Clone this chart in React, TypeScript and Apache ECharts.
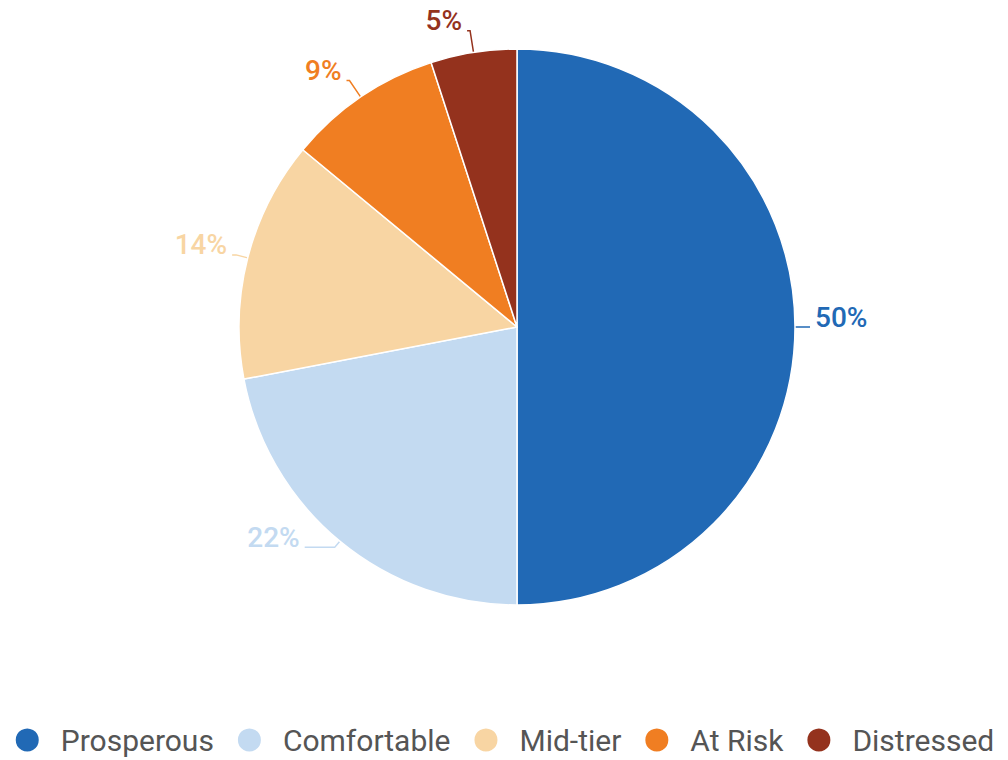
import React, { useEffect, useRef } from "react";
import * as echarts from "echarts";

const categories = ["Prosperous", "Comfortable", "Mid-tier", "At Risk", "Distressed"];
const values = [50, 22, 14, 9, 5];
const colors = ["#2169b5", "#c3daf1", "#f8d5a3", "#f07e22", "#94321d"];
const lineLen = [8, 8, 12, 20, 22];
const lineLen2 = [7, 30, 4, 3, 3];

export default function App() {
  const ref = useRef<HTMLDivElement>(null);
  useEffect(() => {
    const chart = echarts.init(ref.current!, null, { renderer: "svg" });
    chart.setOption({
      animation: false,
      color: colors,
      textStyle: { fontFamily: "Roboto" },
      legend: {
        top: 725,
        left: "center",
        width: 1008,
        padding: 0,
        icon: "circle",
        itemWidth: 25,
        itemHeight: 25,
        itemGap: 22,
        textStyle: { fontSize: 30, color: "#555", fontFamily: "Roboto", padding: [0, 0, 0, 16] },
        data: categories,
      },
      series: [
        {
          type: "pie",
          center: [517, 327],
          radius: 278,
          startAngle: 90,
          clockwise: true,
          avoidLabelOverlap: false,
          itemStyle: { borderColor: "#fff", borderWidth: 1.5 },
          label: {
            show: true,
            formatter: "{d}%\n ",
            fontSize: 28,
            lineHeight: 20,
            fontWeight: 500,
            fontFamily: "Roboto",
          },
          labelLine: { show: true, lineStyle: { width: 1.5 } },
          emphasis: { disabled: true },
          data: categories.map((c, i) => ({
            name: c,
            value: values[i],
            label: { color: colors[i] },
            labelLine: { length: lineLen[i], length2: lineLen2[i] },
          })),
        },
      ],
    });
    return () => chart.dispose();
  }, []);
  return (
    <div
      ref={ref}
      style={{ position: "fixed", left: 0, top: 0, width: 1008, height: 760, background: "#fff" }}
    />
  );
}
